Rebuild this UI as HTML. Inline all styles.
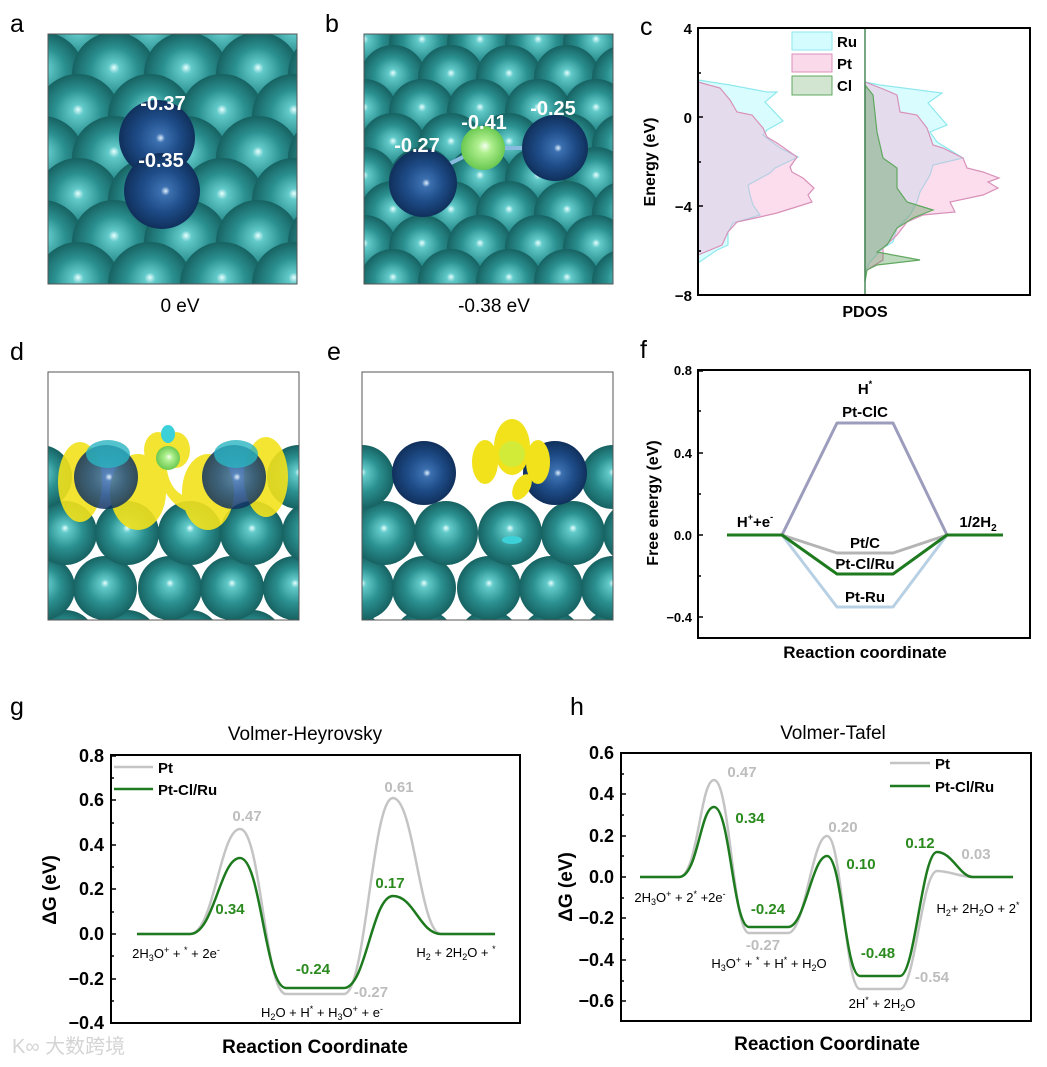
<!DOCTYPE html>
<html><head><meta charset="utf-8"><style>
html,body{margin:0;padding:0;background:#fff}
svg{display:block}
text{font-family:"Liberation Sans",Arial,sans-serif}
</style></head><body>
<svg width="1047" height="1067" viewBox="0 0 1047 1067" xmlns="http://www.w3.org/2000/svg">
<defs>
<radialGradient id="tg" cx="0.5" cy="0.5" r="0.5" fx="0.5" fy="0.42">
<stop offset="0" stop-color="#e8ffff"/><stop offset="0.13" stop-color="#63caca"/><stop offset="0.55" stop-color="#2b9090"/><stop offset="1" stop-color="#176262"/></radialGradient>
<radialGradient id="bg" cx="0.5" cy="0.5" r="0.5" fx="0.55" fy="0.5">
<stop offset="0" stop-color="#e0f0ff"/><stop offset="0.12" stop-color="#3c70b0"/><stop offset="0.55" stop-color="#1e4c88"/><stop offset="1" stop-color="#10305c"/></radialGradient>
<radialGradient id="gg" cx="0.5" cy="0.5" r="0.5" fx="0.55" fy="0.45">
<stop offset="0" stop-color="#f4fff0"/><stop offset="0.3" stop-color="#b0f090"/><stop offset="1" stop-color="#6ac850"/></radialGradient>
<clipPath id="ca"><rect x="0" y="0" width="249" height="250"/></clipPath>
<clipPath id="cd"><rect x="0" y="0" width="251" height="248"/></clipPath>
</defs>

<!-- panel labels -->
<g font-size="25" fill="#000">
<text x="10" y="32">a</text><text x="325" y="32">b</text><text x="640" y="35">c</text>
<text x="10" y="360">d</text><text x="327" y="360">e</text><text x="640" y="358">f</text>
<text x="10" y="715">g</text><text x="570" y="715">h</text>
</g>

<!-- panel a -->
<g transform="translate(48,34)" clip-path="url(#ca)">
<rect width="249" height="250" fill="#227c7c"/>
<g fill="url(#tg)">
<circle cx="30" cy="0" r="42"/><circle cx="102" cy="0" r="42"/><circle cx="174" cy="0" r="42"/><circle cx="246" cy="0" r="42"/>
<circle cx="-6" cy="40" r="42"/><circle cx="66" cy="40" r="42"/><circle cx="138" cy="40" r="42"/><circle cx="210" cy="40" r="42"/><circle cx="282" cy="40" r="42"/>
<circle cx="30" cy="82" r="42"/><circle cx="102" cy="82" r="42"/><circle cx="174" cy="82" r="42"/><circle cx="246" cy="82" r="42"/>
<circle cx="-6" cy="124" r="42"/><circle cx="66" cy="124" r="42"/><circle cx="138" cy="124" r="42"/><circle cx="210" cy="124" r="42"/><circle cx="282" cy="124" r="42"/>
<circle cx="30" cy="166" r="42"/><circle cx="102" cy="166" r="42"/><circle cx="174" cy="166" r="42"/><circle cx="246" cy="166" r="42"/>
<circle cx="-6" cy="208" r="42"/><circle cx="66" cy="208" r="42"/><circle cx="138" cy="208" r="42"/><circle cx="210" cy="208" r="42"/><circle cx="282" cy="208" r="42"/>
<circle cx="30" cy="250" r="42"/><circle cx="102" cy="250" r="42"/><circle cx="174" cy="250" r="42"/><circle cx="246" cy="250" r="42"/>
</g>
<circle cx="109" cy="104" r="38" fill="url(#bg)"/>
<circle cx="114" cy="157" r="38" fill="url(#bg)"/>
</g>
<rect x="48" y="34" width="249" height="250" fill="none" stroke="#555" stroke-width="1"/>
<g font-size="20" font-weight="bold" fill="#fff" text-anchor="middle">
<text x="163" y="110">-0.37</text><text x="161" y="167">-0.35</text></g>
<text x="180" y="312" font-size="19" text-anchor="middle">0 eV</text>

<!-- panel b -->
<g transform="translate(364,34)" clip-path="url(#ca)">
<rect width="249" height="250" fill="#227c7c"/>
<g fill="url(#tg)">
<circle cx="0" cy="10" r="33"/><circle cx="58" cy="10" r="33"/><circle cx="116" cy="10" r="33"/><circle cx="174" cy="10" r="33"/><circle cx="232" cy="10" r="33"/>
<circle cx="29" cy="44" r="33"/><circle cx="87" cy="44" r="33"/><circle cx="145" cy="44" r="33"/><circle cx="203" cy="44" r="33"/><circle cx="261" cy="44" r="33"/>
<circle cx="0" cy="78" r="33"/><circle cx="58" cy="78" r="33"/><circle cx="116" cy="78" r="33"/><circle cx="174" cy="78" r="33"/><circle cx="232" cy="78" r="33"/>
<circle cx="29" cy="112" r="33"/><circle cx="87" cy="112" r="33"/><circle cx="145" cy="112" r="33"/><circle cx="203" cy="112" r="33"/><circle cx="261" cy="112" r="33"/>
<circle cx="0" cy="146" r="33"/><circle cx="58" cy="146" r="33"/><circle cx="116" cy="146" r="33"/><circle cx="174" cy="146" r="33"/><circle cx="232" cy="146" r="33"/>
<circle cx="29" cy="180" r="33"/><circle cx="87" cy="180" r="33"/><circle cx="145" cy="180" r="33"/><circle cx="203" cy="180" r="33"/><circle cx="261" cy="180" r="33"/>
<circle cx="0" cy="214" r="33"/><circle cx="58" cy="214" r="33"/><circle cx="116" cy="214" r="33"/><circle cx="174" cy="214" r="33"/><circle cx="232" cy="214" r="33"/>
<circle cx="29" cy="248" r="33"/><circle cx="87" cy="248" r="33"/><circle cx="145" cy="248" r="33"/><circle cx="203" cy="248" r="33"/><circle cx="261" cy="248" r="33"/>
</g>
<line x1="75" y1="135" x2="105" y2="120" stroke="#8bd" stroke-width="4"/>
<line x1="135" y1="114" x2="165" y2="114" stroke="#8bd" stroke-width="4"/>
<circle cx="59" cy="149" r="34" fill="url(#bg)"/>
<circle cx="191" cy="114" r="33" fill="url(#bg)"/>
<circle cx="119" cy="114" r="22" fill="url(#gg)"/>
</g>
<rect x="364" y="34" width="249" height="250" fill="none" stroke="#555" stroke-width="1"/>
<g font-size="20" font-weight="bold" fill="#fff" text-anchor="middle">
<text x="417" y="152">-0.27</text><text x="484" y="129">-0.41</text><text x="553" y="115">-0.25</text></g>
<text x="494" y="312" font-size="19" text-anchor="middle">-0.38 eV</text>

<!-- panel d -->
<g transform="translate(48,372)" clip-path="url(#cd)">
<rect width="251" height="248" fill="#fff"/>
<g fill="url(#tg)">
<circle cx="17" cy="270" r="32"/><circle cx="79" cy="270" r="32"/><circle cx="142" cy="270" r="32"/><circle cx="204" cy="270" r="32"/><circle cx="266" cy="270" r="32"/>
<circle cx="-5" cy="216" r="32"/><circle cx="57" cy="216" r="32"/><circle cx="122" cy="216" r="32"/><circle cx="184" cy="216" r="32"/><circle cx="247" cy="216" r="32"/>
<circle cx="17" cy="161" r="32"/><circle cx="79" cy="161" r="32"/><circle cx="142" cy="161" r="32"/><circle cx="204" cy="161" r="32"/><circle cx="266" cy="161" r="32"/>
<circle cx="-8" cy="105" r="32"/><circle cx="251" cy="105" r="32"/>
</g>
<g fill="#f2e21c" opacity="0.9">
<ellipse cx="32" cy="110" rx="22" ry="40"/><ellipse cx="90" cy="120" rx="28" ry="38"/>
<ellipse cx="160" cy="120" rx="26" ry="38"/><ellipse cx="218" cy="105" rx="22" ry="40"/>
<ellipse cx="110" cy="78" rx="14" ry="18"/><ellipse cx="128" cy="78" rx="14" ry="18"/>
<path d="M118,90 Q120,120 140,125 Q170,130 185,135 L175,145 Q140,145 125,130 Q110,115 112,92 Z"/>
</g>
<circle cx="58" cy="105" r="32" fill="url(#bg)" opacity="0.85"/>
<circle cx="186" cy="105" r="32" fill="url(#bg)" opacity="0.85"/>
<ellipse cx="60" cy="82" rx="22" ry="14" fill="#2ab4c0" opacity="0.8"/>
<ellipse cx="188" cy="82" rx="22" ry="14" fill="#2ab4c0" opacity="0.8"/>
<circle cx="120" cy="86" r="12" fill="url(#gg)"/>
<ellipse cx="120" cy="62" rx="7" ry="9" fill="#3cd0d8"/>
</g>
<rect x="48" y="372" width="251" height="248" fill="none" stroke="#555" stroke-width="1"/>

<!-- panel e -->
<g transform="translate(362,372)" clip-path="url(#cd)">
<rect width="251" height="248" fill="#fff"/>
<g fill="url(#tg)">
<circle cx="-10" cy="270" r="32"/><circle cx="62" cy="270" r="32"/><circle cx="127" cy="270" r="32"/><circle cx="189" cy="270" r="32"/><circle cx="251" cy="270" r="32"/>
<circle cx="0" cy="216" r="32"/><circle cx="62" cy="216" r="32"/><circle cx="127" cy="216" r="32"/><circle cx="189" cy="216" r="32"/><circle cx="251" cy="216" r="32"/>
<circle cx="22" cy="161" r="32"/><circle cx="84" cy="161" r="32"/><circle cx="148" cy="161" r="32"/><circle cx="211" cy="161" r="32"/><circle cx="273" cy="161" r="32"/>
<circle cx="0" cy="105" r="32"/><circle cx="251" cy="105" r="32"/>
</g>
<circle cx="62" cy="101" r="32" fill="url(#bg)"/>
<circle cx="193" cy="101" r="32" fill="url(#bg)"/>
<g fill="#f2e21c">
<ellipse cx="123" cy="90" rx="13" ry="22"/><ellipse cx="176" cy="90" rx="12" ry="22"/>
<ellipse cx="150" cy="75" rx="18" ry="28"/><ellipse cx="160" cy="115" rx="8" ry="14" transform="rotate(30 160 115)"/>
</g>
<circle cx="150" cy="82" r="13" fill="#c8ee40" opacity="0.8"/>
<ellipse cx="150" cy="168" rx="10" ry="4" fill="#3cd0d8"/>
</g>
<rect x="362" y="372" width="251" height="248" fill="none" stroke="#555" stroke-width="1"/>

<!-- panel c -->
<g>
<polygon points="698,80 730,85 767,92 777,92 765,102 783,121 767,130 763,135 780,148 798,157 775,168 770,173 748,185 750,195 753,205 760,215 733,223 728,232 728,245 717,250 698,263" fill="rgba(170,250,255,0.45)" stroke="#8ee8ee" stroke-width="1.2"/>
<polygon points="698,82 720,88 730,100 737,112 752,115 763,128 767,137 777,143 797,157 790,167 792,172 803,178 814,188 808,195 812,202 793,208 777,213 760,217 737,222 728,232 722,245 698,255" fill="rgba(245,170,210,0.4)" stroke="#d890b8" stroke-width="1.2"/>
<polygon points="865,82 880,85 942,93 928,103 947,125 930,132 937,142 963,158 933,165 930,175 920,192 917,202 910,215 897,228 893,242 883,248 870,262 865,272" fill="rgba(170,250,255,0.45)" stroke="#8ee8ee" stroke-width="1.2"/>
<polygon points="865,82 883,89 897,95 900,112 917,115 927,128 933,145 943,148 963,158 967,168 983,172 999,178 988,182 998,188 983,195 950,202 955,212 923,215 907,222 897,235 883,248 883,260 870,268 865,272" fill="rgba(245,170,210,0.4)" stroke="#d890b8" stroke-width="1.2"/>
<polygon points="865,85 873,95 877,132 883,158 897,168 897,188 907,202 933,210 913,218 897,228 887,245 877,252 920,260 877,265 867,270 865,282" fill="rgba(70,150,70,0.35)" stroke="#60a860" stroke-width="1.2"/>
<line x1="865" y1="28" x2="865" y2="295" stroke="#4a8a5a" stroke-width="1.5"/>
<rect x="792" y="32" width="40" height="18" fill="rgba(170,250,255,0.5)" stroke="#8ee8ee"/>
<rect x="792" y="54" width="40" height="18" fill="rgba(245,170,210,0.45)" stroke="#d890b8"/>
<rect x="792" y="76" width="40" height="19" fill="rgba(70,150,70,0.25)" stroke="#60a860"/>
<g font-size="15" font-weight="bold"><text x="837" y="47">Ru</text><text x="837" y="69">Pt</text><text x="837" y="91">Cl</text></g>
<rect x="698" y="28" width="332" height="267" fill="none" stroke="#000" stroke-width="2"/>
<g stroke="#000" stroke-width="1.5"><line x1="698" y1="28" x2="703" y2="28"/><line x1="698" y1="73" x2="701" y2="73"/><line x1="698" y1="117" x2="703" y2="117"/><line x1="698" y1="162" x2="701" y2="162"/><line x1="698" y1="206" x2="703" y2="206"/><line x1="698" y1="251" x2="701" y2="251"/></g>
<g font-size="15" font-weight="bold" text-anchor="end"><text x="692" y="34">4</text><text x="692" y="123">0</text><text x="692" y="212">−4</text><text x="692" y="301">−8</text></g>
<text transform="translate(655,162) rotate(-90)" font-size="16" font-weight="bold" text-anchor="middle">Energy (eV)</text>
<text x="865" y="317" font-size="16" font-weight="bold" text-anchor="middle">PDOS</text>
</g>

<!-- panel f -->
<g>
<rect x="698" y="370" width="332" height="268" fill="none" stroke="#000" stroke-width="2"/>
<g stroke="#000" stroke-width="1.5"><line x1="698" y1="411" x2="701" y2="411"/><line x1="698" y1="453" x2="703" y2="453"/><line x1="698" y1="494" x2="701" y2="494"/><line x1="698" y1="535" x2="703" y2="535"/><line x1="698" y1="576" x2="701" y2="576"/><line x1="698" y1="617" x2="703" y2="617"/><line x1="698" y1="371" x2="703" y2="371"/></g>
<g font-size="13" font-weight="bold" text-anchor="end"><text x="692" y="375">0.8</text><text x="692" y="458">0.4</text><text x="692" y="540">0.0</text><text x="692" y="622">−0.4</text></g>
<text transform="translate(658,503) rotate(-90)" font-size="16" font-weight="bold" text-anchor="middle">Free energy (eV)</text>
<text x="865" y="658" font-size="17" font-weight="bold" text-anchor="middle">Reaction coordinate</text>
<g fill="none" stroke-width="3" stroke-linejoin="round">
<polyline points="782,535 837,423 893,423 947,535" stroke="#9c9cbc"/>
<polyline points="782,535 837,607 893,607 947,535" stroke="#b8d0e4"/>
<polyline points="782,535 837,553 893,553 947,535" stroke="#b4b4b4"/>
<polyline points="727,535 782,535 837,574 893,574 947,535 1003,535" stroke="#1e7a1e"/>
</g>
<g font-size="15" font-weight="bold" text-anchor="middle">
<text x="865" y="394">H<tspan font-size="9" dy="-7">*</tspan></text>
<text x="865" y="417">Pt-ClC</text>
<text x="755" y="527">H<tspan font-size="9" dy="-7">+</tspan><tspan dy="7">+e</tspan><tspan font-size="9" dy="-7">-</tspan></text>
<text x="978" y="527">1/2H<tspan font-size="10" dy="4">2</tspan></text>
<text x="865" y="548">Pt/C</text>
<text x="865" y="569">Pt-Cl/Ru</text>
<text x="865" y="602">Pt-Ru</text>
</g>
</g>

<!-- panel g -->
<g>
<text x="305" y="740" font-size="19" text-anchor="middle">Volmer-Heyrovsky</text>
<rect x="111" y="755" width="409" height="268" fill="none" stroke="#000" stroke-width="2"/>
<g stroke="#000" stroke-width="1.5">
<line x1="111" y1="756" x2="116" y2="756"/><line x1="111" y1="778" x2="114" y2="778"/><line x1="111" y1="800" x2="116" y2="800"/><line x1="111" y1="823" x2="114" y2="823"/><line x1="111" y1="845" x2="116" y2="845"/><line x1="111" y1="867" x2="114" y2="867"/><line x1="111" y1="889" x2="116" y2="889"/><line x1="111" y1="912" x2="114" y2="912"/><line x1="111" y1="934" x2="116" y2="934"/><line x1="111" y1="956" x2="114" y2="956"/><line x1="111" y1="979" x2="116" y2="979"/><line x1="111" y1="1001" x2="114" y2="1001"/></g>
<g font-size="18" font-weight="bold" text-anchor="end"><text x="104" y="762">0.8</text><text x="104" y="806">0.6</text><text x="104" y="851">0.4</text><text x="104" y="895">0.2</text><text x="104" y="940">0.0</text><text x="104" y="985">−0.2</text><text x="104" y="1029">−0.4</text></g>
<text transform="translate(56,890) rotate(-90)" font-size="19" font-weight="bold" text-anchor="middle">ΔG (eV)</text>
<text x="315" y="1053" font-size="19" font-weight="bold" text-anchor="middle">Reaction Coordinate</text>
<g fill="none" stroke-width="2.5">
<path d="M137,934 L190,934 C214,934 220,829 240,829 C261,829 265,994 286,994 L344,994 C366,994 372,798 393,798 C414,798 420,934 441,934 L495,934" stroke="#c4c4c4"/>
<path d="M137,934 L190,934 C214,934 220,858 240,858 C261,858 265,988 286,988 L344,988 C366,988 372,896 393,896 C414,896 420,934 441,934 L495,934" stroke="#1e7a1e"/>
<line x1="114" y1="767" x2="153" y2="767" stroke="#c4c4c4"/>
<line x1="114" y1="789" x2="153" y2="789" stroke="#1e7a1e"/>
</g>
<g font-size="15" font-weight="bold"><text x="158" y="773">Pt</text><text x="158" y="795">Pt-Cl/Ru</text></g>
<g font-size="15" font-weight="bold" text-anchor="middle">
<text x="247" y="821" fill="#bdbdbd">0.47</text><text x="230" y="914" fill="#2a8a1e">0.34</text>
<text x="399" y="792" fill="#bdbdbd">0.61</text><text x="390" y="888" fill="#2a8a1e">0.17</text>
<text x="313" y="974" fill="#2a8a1e">-0.24</text><text x="371" y="997" fill="#bdbdbd">-0.27</text>
</g>
<g font-size="13" text-anchor="middle">
<text x="176" y="958">2H<tspan font-size="9" dy="3">3</tspan><tspan dy="-3">O</tspan><tspan font-size="9" dy="-5">+</tspan><tspan dy="5"> + </tspan><tspan font-size="9" dy="-5">*</tspan><tspan dy="5"> + 2e</tspan><tspan font-size="9" dy="-5">-</tspan></text>
<text x="456" y="957">H<tspan font-size="9" dy="3">2</tspan><tspan dy="-3"> + 2H</tspan><tspan font-size="9" dy="3">2</tspan><tspan dy="-3">O + </tspan><tspan font-size="9" dy="-5">*</tspan></text>
<text x="322" y="1017">H<tspan font-size="9" dy="3">2</tspan><tspan dy="-3">O + H</tspan><tspan font-size="9" dy="-5">*</tspan><tspan dy="5"> + H</tspan><tspan font-size="9" dy="3">3</tspan><tspan dy="-3">O</tspan><tspan font-size="9" dy="-5">+</tspan><tspan dy="5"> + e</tspan><tspan font-size="9" dy="-5">-</tspan></text>
</g>
<text x="12" y="1053" font-size="20" fill="#d4d4d4" font-family="Liberation Sans, Noto Sans CJK SC, sans-serif">K∞ 大数跨境</text>
</g>

<!-- panel h -->
<g>
<text x="833" y="739" font-size="19" text-anchor="middle">Volmer-Tafel</text>
<rect x="621" y="753" width="410" height="268" fill="none" stroke="#000" stroke-width="2"/>
<g stroke="#000" stroke-width="1.5">
<line x1="621" y1="753" x2="626" y2="753"/><line x1="621" y1="774" x2="624" y2="774"/><line x1="621" y1="794" x2="626" y2="794"/><line x1="621" y1="815" x2="624" y2="815"/><line x1="621" y1="836" x2="626" y2="836"/><line x1="621" y1="856" x2="624" y2="856"/><line x1="621" y1="877" x2="626" y2="877"/><line x1="621" y1="898" x2="624" y2="898"/><line x1="621" y1="918" x2="626" y2="918"/><line x1="621" y1="939" x2="624" y2="939"/><line x1="621" y1="960" x2="626" y2="960"/><line x1="621" y1="981" x2="624" y2="981"/><line x1="621" y1="1001" x2="626" y2="1001"/></g>
<g font-size="18" font-weight="bold" text-anchor="end"><text x="614" y="759">0.6</text><text x="614" y="800">0.4</text><text x="614" y="842">0.2</text><text x="614" y="883">0.0</text><text x="614" y="924">−0.2</text><text x="614" y="966">−0.4</text><text x="614" y="1007">−0.6</text></g>
<text transform="translate(572,887) rotate(-90)" font-size="19" font-weight="bold" text-anchor="middle">ΔG (eV)</text>
<text x="827" y="1050" font-size="19" font-weight="bold" text-anchor="middle">Reaction Coordinate</text>
<g fill="none" stroke-width="2.5">
<path d="M640,877 L679,877 C698,877 700,780 714,780 C730,780 733,933 749,933 L788,933 C805,933 812,836 827,836 C842,836 845,989 860,989 L900,989 C915,989 922,871 937,871 C950,871 960,877 973,877 L1013,877" stroke="#c4c4c4"/>
<path d="M640,877 L679,877 C698,877 700,807 714,807 C730,807 733,927 749,927 L788,927 C805,927 812,856 827,856 C842,856 845,976 860,976 L900,976 C915,976 922,852 937,852 C952,852 960,877 973,877 L1013,877" stroke="#1e7a1e"/>
<line x1="890" y1="763" x2="930" y2="763" stroke="#c4c4c4"/>
<line x1="890" y1="786" x2="930" y2="786" stroke="#1e7a1e"/>
</g>
<g font-size="15" font-weight="bold"><text x="935" y="769">Pt</text><text x="935" y="792">Pt-Cl/Ru</text></g>
<g font-size="15" font-weight="bold" text-anchor="middle">
<text x="742" y="777" fill="#bdbdbd">0.47</text><text x="750" y="823" fill="#2a8a1e">0.34</text>
<text x="843" y="832" fill="#bdbdbd">0.20</text><text x="861" y="869" fill="#2a8a1e">0.10</text>
<text x="920" y="848" fill="#2a8a1e">0.12</text><text x="976" y="859" fill="#bdbdbd">0.03</text>
<text x="768" y="914" fill="#2a8a1e">-0.24</text><text x="763" y="950" fill="#bdbdbd">-0.27</text>
<text x="878" y="958" fill="#2a8a1e">-0.48</text><text x="932" y="982" fill="#bdbdbd">-0.54</text>
</g>
<g font-size="13" text-anchor="middle">
<text x="680" y="902">2H<tspan font-size="9" dy="3">3</tspan><tspan dy="-3">O</tspan><tspan font-size="9" dy="-5">+</tspan><tspan dy="5"> + 2</tspan><tspan font-size="9" dy="-5">*</tspan><tspan dy="5"> +2e</tspan><tspan font-size="9" dy="-5">-</tspan></text>
<text x="769" y="968">H<tspan font-size="9" dy="3">3</tspan><tspan dy="-3">O</tspan><tspan font-size="9" dy="-5">+</tspan><tspan dy="5"> + </tspan><tspan font-size="9" dy="-5">*</tspan><tspan dy="5"> + H</tspan><tspan font-size="9" dy="-5">*</tspan><tspan dy="5"> + H</tspan><tspan font-size="9" dy="3">2</tspan><tspan dy="-3">O</tspan></text>
<text x="882" y="1008">2H<tspan font-size="9" dy="-5">*</tspan><tspan dy="5"> + 2H</tspan><tspan font-size="9" dy="3">2</tspan><tspan dy="-3">O</tspan></text>
<text x="978" y="913">H<tspan font-size="9" dy="3">2</tspan><tspan dy="-3">+ 2H</tspan><tspan font-size="9" dy="3">2</tspan><tspan dy="-3">O + 2</tspan><tspan font-size="9" dy="-5">*</tspan></text>
</g>
</g>
</svg>
</body></html>
